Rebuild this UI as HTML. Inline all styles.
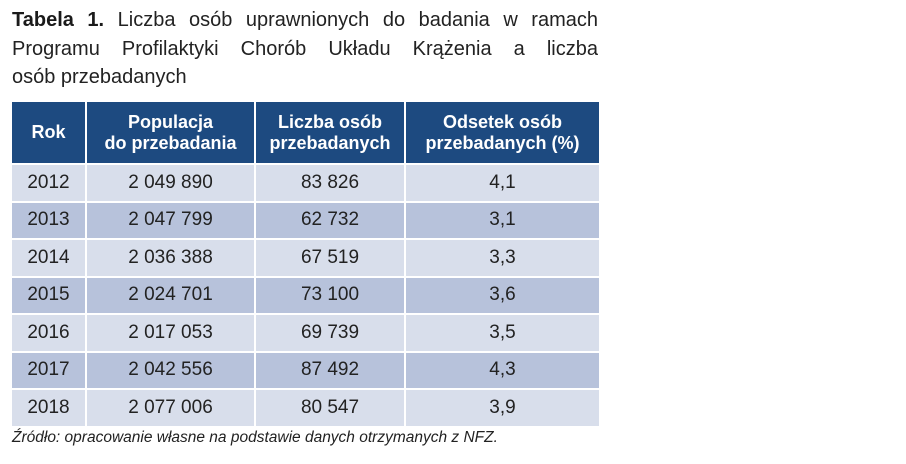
<!DOCTYPE html>
<html><head><meta charset="utf-8"><style>
body{margin:0;width:906px;height:464px;background:#fff;font-family:"Liberation Sans","DejaVu Sans",sans-serif;color:#222;position:relative;overflow:hidden}
#title{position:absolute;left:12px;top:6px;width:586px;font-size:20px;line-height:28.5px;color:#222}
#title .j2{text-align:justify;text-align-last:justify}
#title b{color:#1a1a1a}
table{position:absolute;left:12px;top:102px;width:587px;border-collapse:collapse;table-layout:fixed}
th{background:#1d4a80;color:#fff;font-weight:bold;font-size:18px;line-height:21px;height:61px;padding:0;border-left:2px solid #fff;text-align:center}
td{font-size:19px;height:35.5px;padding:0;text-align:center;border-left:2px solid #fff;border-top:2px solid #fff}
th:first-child,td:first-child{border-left:none}
tr.a td{background:#d8deeb}
tr.b td{background:#b7c2db}
#src{position:absolute;left:12px;top:429px;font-size:15.5px;font-style:italic;color:#222}
</style></head><body>
<div id="title"><div class="j2"><b>Tabela 1.</b> Liczba osób uprawnionych do badania w ramach</div><div class="j2">Programu Profilaktyki Chorób Układu Krążenia a liczba</div><div>osób przebadanych</div></div>
<table>
<colgroup><col style="width:74px"><col style="width:169px"><col style="width:150px"><col style="width:194px"></colgroup>
<tr><th>Rok</th><th>Populacja<br>do przebadania</th><th>Liczba osób<br>przebadanych</th><th>Odsetek osób<br>przebadanych (%)</th></tr>
<tr class="a"><td>2012</td><td>2 049 890</td><td>83 826</td><td>4,1</td></tr>
<tr class="b"><td>2013</td><td>2 047 799</td><td>62 732</td><td>3,1</td></tr>
<tr class="a"><td>2014</td><td>2 036 388</td><td>67 519</td><td>3,3</td></tr>
<tr class="b"><td>2015</td><td>2 024 701</td><td>73 100</td><td>3,6</td></tr>
<tr class="a"><td>2016</td><td>2 017 053</td><td>69 739</td><td>3,5</td></tr>
<tr class="b"><td>2017</td><td>2 042 556</td><td>87 492</td><td>4,3</td></tr>
<tr class="a"><td>2018</td><td>2 077 006</td><td>80 547</td><td>3,9</td></tr>
</table>
<div id="src">Źródło: opracowanie własne na podstawie danych otrzymanych z NFZ.</div>
</body></html>
